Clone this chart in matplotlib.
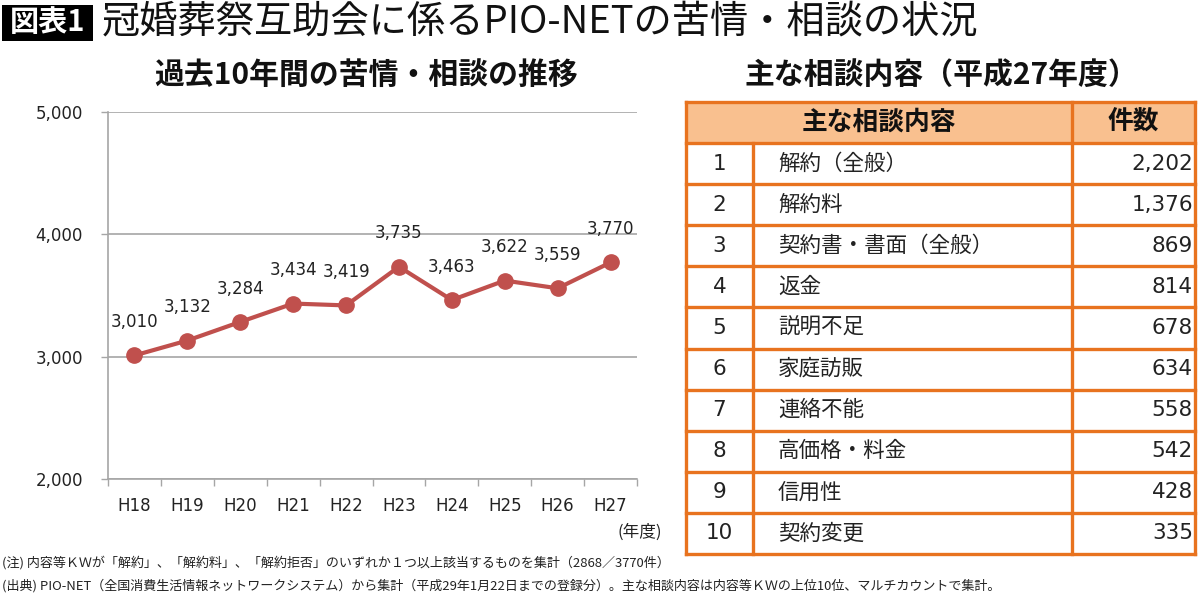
import matplotlib
matplotlib.use("Agg")
import matplotlib.pyplot as plt
from matplotlib.patches import Rectangle

plt.rcParams['font.family'] = ['DejaVu Sans', 'Noto Sans CJK JP']

# ---------------- data ----------------
years = ["H18", "H19", "H20", "H21", "H22", "H23", "H24", "H25", "H26", "H27"]
complaints = [3010, 3132, 3284, 3434, 3419, 3735, 3463, 3622, 3559, 3770]
y_ticks = [2000, 3000, 4000, 5000]

ranks = ["1", "2", "3", "4", "5", "6", "7", "8", "9", "10"]
topics = ["解約（全般）", "解約料", "契約書・書面（全般）", "返金", "説明不足",
          "家庭訪販", "連絡不能", "高価格・料金", "信用性", "契約変更"]
counts = [2202, 1376, 869, 814, 678, 634, 558, 542, 428, 335]

title = "冠婚葬祭互助会に係るPIO-NETの苦情・相談の状況"
badge = "図表1"
left_title = "過去10年間の苦情・相談の推移"
right_title = "主な相談内容（平成27年度）"
table_header = ["主な相談内容", "件数"]
note1 = "(注) 内容等ＫＷが「解約」、「解約料」、「解約拒否」のいずれか１つ以上該当するものを集計（2868／3770件）"
note2 = "(出典) PIO-NET（全国消費生活情報ネットワークシステム）から集計（平成29年1月22日までの登録分）。主な相談内容は内容等ＫＷの上位10位、マルチカウントで集計。"

W, H = 1200, 599
fig = plt.figure(figsize=(W / 100, H / 100), dpi=100)
fig.patch.set_facecolor("white")

def fx(px):
    return px / W

def fy(py):
    return 1 - py / H

cjk = ['Noto Sans CJK JP', 'DejaVu Sans']

# ---------------- title ----------------
fig.patches.append(Rectangle((fx(2), fy(41)), fx(91), 36 / H, transform=fig.transFigure,
                             facecolor="black", edgecolor="none"))
fig.text(fx(48), fy(22), badge, color="white", fontsize=21, fontweight="bold",
         family=cjk, ha="center", va="center")
fig.text(fx(102), fy(22), title, color="#111111", fontsize=27.5, fontweight="normal",
         family=cjk, ha="left", va="center")

fig.text(fx(366), fy(75), left_title, fontsize=21.5, fontweight="bold",
         family=cjk, ha="center", va="center", color="#111111")
fig.text(fx(941), fy(75), right_title, fontsize=21.5, fontweight="bold",
         family=cjk, ha="center", va="center", color="#111111")

# ---------------- line chart ----------------
ax = fig.add_axes([fx(108), fy(479), fx(637 - 108), (479 - 112) / H])
x = list(range(len(years)))
red = "#C0504D"
ax.plot(x, complaints, color=red, lw=3.0, marker="o", ms=11,
        markerfacecolor=red, markeredgecolor=red, zorder=3, clip_on=False)
for xi, v in zip(x, complaints):
    ax.annotate(f"{v:,}", (xi, v), xytext=(0, 24), textcoords="offset points",
                ha="center", va="center", fontsize=12, color="#222222")

ax.set_xlim(-0.5, len(years) - 0.5)
ax.set_ylim(2000, 5000)
ax.set_yticks(y_ticks)
ax.set_yticklabels([f"{t:,}" for t in y_ticks])
ax.set_xticks(x)
ax.set_xticklabels(years)
ax.set_xticks([i - 0.5 for i in range(len(years) + 1)], minor=True)
ax.tick_params(axis="x", which="major", length=0, pad=13, labelsize=12, labelcolor="#222222")
ax.tick_params(axis="x", which="minor", length=5, color="#A6A6A6", width=1)
ax.tick_params(axis="y", length=5, color="#A6A6A6", width=1, labelsize=12,
               labelcolor="#222222", pad=13)
ax.grid(axis="y", color="#A6A6A6", lw=1.2)
ax.set_axisbelow(True)
for s in ["top", "right"]:
    ax.spines[s].set_visible(False)
for s in ["left", "bottom"]:
    ax.spines[s].set_color("#A6A6A6")
    ax.spines[s].set_linewidth(1.2)
fig.text(fx(640), fy(532), "(年度)", fontsize=12, family=cjk, ha="center", va="center",
         color="#222222")

# ---------------- table ----------------
orange = "#E8731F"
fill = "#F9C08F"
tx0, tx1, tx2, tx3 = 686, 753, 1072, 1195
tax = fig.add_axes([fx(tx0), fy(554), fx(tx3 - tx0), (554 - 102) / H])
nrows = len(ranks) + 1
tax.set_xlim(tx0, tx3)
tax.set_ylim(nrows, 0)
tax.axis("off")
tax.axhspan(0, 1, color=fill, zorder=0)
lw = 2.4
for r in range(nrows + 1):
    tax.plot([tx0, tx3], [r, r], color=orange, lw=lw, clip_on=False, solid_capstyle="projecting")
for xv in [tx0, tx2, tx3]:
    tax.plot([xv, xv], [0, nrows], color=orange, lw=lw, clip_on=False, solid_capstyle="projecting")
tax.plot([tx1, tx1], [1, nrows], color=orange, lw=lw, clip_on=False)

tax.text((tx0 + tx2) / 2, 0.5, table_header[0], fontsize=18.5, fontweight="bold", family=cjk,
         ha="center", va="center", color="#111111")
tax.text((tx2 + tx3) / 2, 0.5, table_header[1], fontsize=18.5, fontweight="bold", family=cjk,
         ha="center", va="center", color="#111111")
for i, (rk, tp, c) in enumerate(zip(ranks, topics, counts)):
    yc = i + 1.5
    tax.text((tx0 + tx1) / 2, yc, rk, fontsize=15.5, ha="center", va="center", color="#222222")
    tax.text(778, yc, tp, fontsize=15.5, family=cjk, ha="left", va="center", color="#222222")
    tax.text(1193, yc, f"{c:,}", fontsize=15.5, ha="right", va="center", color="#222222")

# ---------------- notes ----------------
fig.text(fx(2), fy(563), note1, fontsize=9.4, family=cjk, ha="left", va="center", color="#222222")
fig.text(fx(2), fy(586), note2, fontsize=9.4, family=cjk, ha="left", va="center", color="#222222")

fig.savefig("out.png", dpi=100, facecolor="white")
